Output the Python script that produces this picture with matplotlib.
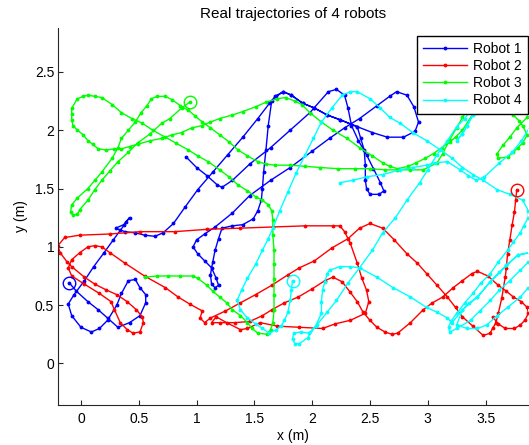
import numpy as np
import matplotlib
matplotlib.use('Agg')
import matplotlib.pyplot as plt
from matplotlib.ticker import FormatStrFormatter

plt.rcParams['font.family'] = ['Liberation Sans', 'DejaVu Sans']

# trajectories (x, y in metres)
r1_x = [-0.10, -0.04, 0.06, 0.15, 0.23, 0.32, 0.42, 0.51, 0.56, 0.56, 0.51, 0.47, 0.41, 0.35, 0.31, 0.23, 0.16, 0.09, 0.00, -0.08,
        -0.11, -0.06, 0.03, 0.11, 0.20, 0.28, 0.34, 0.39, 0.42, 0.37, 0.30, 0.38, 0.47, 0.55, 0.64, 0.71, 0.80, 0.90, 1.01, 1.14,
        1.27, 1.40, 1.53, 1.63, 1.68, 1.75, 1.82, 1.92, 2.02, 2.13, 2.24, 2.39, 2.52, 2.65, 2.79, 2.89, 2.92, 2.88, 2.82, 2.73,
        2.67, 2.56, 2.41, 2.28, 2.15, 2.00, 1.81, 1.64, 1.46, 1.31, 1.16, 1.07, 1.00, 0.97, 1.01, 1.07, 1.13, 1.17, 1.19, 1.16,
        1.13, 1.12, 1.14, 1.16, 1.19, 1.22, 1.31, 1.40, 1.49, 1.53, 1.56, 1.57, 1.58, 1.60, 1.62, 1.65, 1.69, 1.75, 1.82, 1.92,
        2.02, 2.13, 2.24, 2.39, 2.42, 2.45, 2.46, 2.46, 2.47, 2.50, 2.58, 2.62, 2.59, 2.53, 2.47, 2.40, 2.34, 2.31, 2.28, 2.21,
        2.14, 1.98, 1.81, 1.64, 1.46, 1.31, 1.22, 1.18, 1.09, 1.00, 0.91]
r1_y = [0.69, 0.62, 0.53, 0.46, 0.39, 0.31, 0.35, 0.41, 0.52, 0.59, 0.65, 0.72, 0.71, 0.60, 0.50, 0.37, 0.30, 0.27, 0.31, 0.41,
        0.51, 0.59, 0.71, 0.83, 0.95, 1.06, 1.14, 1.21, 1.25, 1.19, 1.16, 1.13, 1.12, 1.10, 1.09, 1.12, 1.20, 1.34, 1.49, 1.64,
        1.79, 1.94, 2.10, 2.23, 2.29, 2.33, 2.30, 2.23, 2.19, 2.13, 2.09, 2.03, 1.98, 1.94, 1.94, 1.99, 2.07, 2.20, 2.30, 2.33,
        2.29, 2.21, 2.10, 2.02, 1.93, 1.82, 1.68, 1.57, 1.44, 1.29, 1.17, 1.11, 1.06, 1.00, 0.94, 0.88, 0.82, 0.73, 0.67, 0.65,
        0.68, 0.76, 0.87, 0.97, 1.07, 1.16, 1.18, 1.19, 1.24, 1.31, 1.40, 1.50, 1.64, 1.83, 2.04, 2.25, 2.29, 2.33, 2.30, 2.23,
        2.19, 2.13, 2.09, 2.03, 1.93, 1.83, 1.70, 1.57, 1.50, 1.45, 1.45, 1.48, 1.55, 1.67, 1.79, 1.91, 2.04, 2.19, 2.30, 2.35,
        2.33, 2.15, 2.00, 1.85, 1.71, 1.57, 1.51, 1.53, 1.61, 1.68, 1.77]

r2_x = [3.77, 3.76, 3.75, 3.73, 3.71, 3.69, 3.68, 3.67, 3.64, 3.61, 3.59, 3.56, 3.54, 3.48, 3.39, 3.30, 3.24, 3.17, 3.08, 2.99,
        2.91, 2.82, 2.71, 2.61, 2.50, 2.41, 2.31, 2.17, 2.02, 1.89, 1.79, 1.65, 1.51, 1.38, 1.25, 1.12, 1.07, 1.03, 1.05, 0.94,
        0.84, 0.73, 0.55, 0.38, 0.25, 0.18, 0.12, 0.06, -0.01, -0.08, -0.11, -0.08, 0.03, 0.16, 0.26, 0.29, 0.34, 0.40, 0.45, 0.51,
        0.54, 0.53, 0.48, 0.40, 0.31, 0.22, 0.12, 0.03, -0.08, -0.12, -0.18, -0.20, -0.14, -0.01, 0.25, 0.51, 0.81, 1.09, 1.38, 1.66,
        1.94, 2.18, 2.24, 2.28, 2.33, 2.39, 2.43, 2.47, 2.49, 2.46, 2.33, 2.20, 2.09, 1.89, 1.70, 1.55, 1.44, 1.38, 1.26, 1.17,
        1.13, 1.20, 1.33, 1.46, 1.57, 1.65, 1.76, 1.88, 2.00, 2.11, 2.18, 2.26, 2.33, 2.39, 2.44, 2.50, 2.56, 2.63, 2.69, 2.74,
        2.85, 2.96, 3.04, 3.13, 3.22, 3.30, 3.38, 3.43, 3.52, 3.61, 3.68, 3.74, 3.81, 3.86, 3.87, 3.84, 3.80, 3.75, 3.67, 3.61,
        3.56]
r2_y = [1.49, 1.40, 1.30, 1.19, 1.06, 0.94, 0.82, 0.74, 0.56, 0.43, 0.35, 0.30, 0.26, 0.24, 0.32, 0.40, 0.48, 0.57, 0.67, 0.77,
        0.86, 0.94, 1.06, 1.16, 1.20, 1.16, 1.07, 0.99, 0.88, 0.82, 0.76, 0.67, 0.59, 0.52, 0.45, 0.39, 0.35, 0.39, 0.45, 0.51,
        0.57, 0.65, 0.75, 0.86, 0.95, 1.00, 1.01, 1.00, 0.95, 0.89, 0.82, 0.75, 0.68, 0.60, 0.53, 0.46, 0.35, 0.29, 0.26, 0.27,
        0.35, 0.40, 0.46, 0.53, 0.59, 0.63, 0.68, 0.74, 0.83, 0.87, 0.95, 1.01, 1.08, 1.10, 1.11, 1.13, 1.13, 1.15, 1.16, 1.17,
        1.18, 1.18, 1.18, 1.13, 1.03, 0.86, 0.73, 0.63, 0.53, 0.43, 0.37, 0.34, 0.30, 0.31, 0.32, 0.35, 0.30, 0.29, 0.35, 0.40,
        0.35, 0.35, 0.35, 0.36, 0.41, 0.46, 0.52, 0.57, 0.64, 0.71, 0.74, 0.70, 0.61, 0.53, 0.44, 0.37, 0.31, 0.27, 0.25, 0.26,
        0.35, 0.46, 0.52, 0.57, 0.65, 0.71, 0.77, 0.79, 0.75, 0.67, 0.62, 0.57, 0.53, 0.48, 0.43, 0.37, 0.33, 0.30, 0.30, 0.34,
        0.40]

r3_x = [0.94, 0.87, 0.77, 0.70, 0.60, 0.49, 0.41, 0.32, 0.25, 0.18, 0.12, 0.06, -0.01, -0.03, -0.07, -0.09, -0.08, -0.03, 0.06, 0.12,
        0.18, 0.27, 0.32, 0.35, 0.41, 0.47, 0.52, 0.57, 0.61, 0.66, 0.73, 0.79, 0.86, 0.93, 0.99, 1.05, 1.12, 1.20, 1.28, 1.36,
        1.44, 1.53, 1.60, 1.68, 1.81, 1.94, 2.07, 2.22, 2.37, 2.50, 2.63, 2.73, 2.85, 2.96, 3.08, 3.13, 3.19, 3.25, 3.30, 3.37,
        3.45, 3.58, 3.67, 3.71, 3.74, 3.79, 3.82, 3.86, 3.82, 3.78, 3.74, 3.69, 3.61, 3.60, 3.65, 3.71, 3.77, 3.86, 3.93, 3.94,
        3.62, 3.45, 3.39, 3.30, 3.24, 3.19, 3.12, 3.05, 2.98, 2.90, 2.83, 2.74, 2.67, 2.61, 2.52, 2.41, 2.30, 2.18, 2.08, 1.98,
        1.91, 1.85, 1.77, 1.70, 1.60, 1.51, 1.40, 1.31, 1.20, 1.12, 1.05, 0.96, 0.87, 0.79, 0.70, 0.60, 0.49, 0.42, 0.35, 0.29,
        0.22, 0.15, 0.10, 0.06, 0.02, -0.03, -0.07, -0.08, -0.08, -0.08, -0.03, 0.02, 0.06, 0.12, 0.18, 0.27, 0.35, 0.44, 0.53,
        0.62, 0.73, 0.82, 0.93, 1.01, 1.10, 1.20, 1.28, 1.36, 1.44, 1.51, 1.57, 1.62, 1.65, 1.66, 1.66, 1.67, 1.67, 1.67, 1.67,
        1.67, 1.66, 1.64, 1.61, 1.53, 1.48, 1.44, 1.38, 1.31, 1.26, 1.20, 1.14, 1.09, 1.01, 0.97, 0.86, 0.75, 0.66, 0.55]
r3_y = [2.24, 2.19, 2.10, 2.06, 1.97, 1.89, 1.81, 1.73, 1.65, 1.57, 1.49, 1.40, 1.32, 1.28, 1.27, 1.30, 1.36, 1.42, 1.50, 1.57,
        1.64, 1.76, 1.85, 1.93, 2.00, 2.07, 2.15, 2.21, 2.27, 2.29, 2.29, 2.26, 2.21, 2.17, 2.12, 2.07, 2.02, 1.96, 1.90, 1.83,
        1.78, 1.73, 1.71, 1.70, 1.70, 1.69, 1.68, 1.67, 1.67, 1.67, 1.66, 1.66, 1.66, 1.66, 1.72, 1.80, 1.92, 2.02, 2.11, 2.21,
        2.34, 2.43, 2.34, 2.24, 2.13, 2.08, 2.04, 1.96, 1.89, 1.85, 1.81, 1.77, 1.76, 1.80, 1.87, 1.94, 2.02, 2.11, 2.21, 2.51,
        2.64, 2.43, 2.14, 2.00, 1.94, 1.90, 1.85, 1.80, 1.76, 1.72, 1.69, 1.67, 1.69, 1.72, 1.78, 1.85, 1.93, 2.00, 2.07, 2.15,
        2.22, 2.25, 2.28, 2.27, 2.24, 2.20, 2.16, 2.13, 2.10, 2.07, 2.04, 2.02, 1.98, 1.96, 1.93, 1.91, 1.88, 1.86, 1.84, 1.84,
        1.83, 1.84, 1.88, 1.91, 1.96, 2.00, 2.04, 2.09, 2.14, 2.19, 2.27, 2.29, 2.30, 2.29, 2.28, 2.22, 2.15, 2.10, 2.06,
        2.00, 1.94, 1.89, 1.83, 1.78, 1.73, 1.66, 1.60, 1.53, 1.48, 1.43, 1.40, 1.36, 1.31, 1.23, 1.10, 0.97, 0.85, 0.72, 0.59,
        0.46, 0.35, 0.29, 0.25, 0.26, 0.30, 0.35, 0.41, 0.46, 0.52, 0.57, 0.62, 0.67, 0.73, 0.75, 0.75, 0.75, 0.75, 0.74]

r4_x = [1.83, 1.82, 1.81, 1.79, 1.76, 1.73, 1.69, 1.63, 1.57, 1.51, 1.44, 1.38, 1.35, 1.39, 1.44, 1.51, 1.57, 1.62, 1.66, 1.72,
        1.79, 1.86, 1.94, 2.01, 2.08, 2.17, 2.26, 2.33, 2.39, 2.50, 2.59, 2.67, 2.76, 2.87, 2.99, 3.11, 3.21, 3.30, 3.39, 3.48,
        3.60, 3.71, 3.82, 3.87, 3.87, 3.83, 3.80, 3.74, 3.69, 3.61, 3.54, 3.46, 3.39, 3.32, 3.25, 3.20, 3.18, 3.19, 3.25, 3.37,
        3.45, 3.54, 3.62, 3.71, 3.80, 3.87, 3.97, 3.87, 3.80, 3.69, 3.60, 3.51, 3.43, 3.34, 3.25, 3.30, 3.36, 3.43, 3.54, 3.62,
        3.68, 3.78, 3.88, 3.78, 3.68, 3.54, 3.43, 3.30, 3.21, 3.17, 3.08, 2.99, 2.85, 2.70, 2.56, 2.41, 2.33, 2.24, 2.15, 2.13,
        2.11, 2.09, 2.08, 2.08, 2.03, 1.96, 1.89, 1.85, 1.83, 1.84, 1.90, 1.97, 2.04, 2.13, 2.21, 2.31, 2.41, 2.52, 2.61, 2.72,
        2.82, 2.93, 3.00, 3.08, 3.17, 3.25, 3.32, 3.37, 3.44, 3.49, 3.42, 3.39, 3.34, 3.30, 3.25, 3.30, 3.34, 3.39, 3.42, 3.58,
        3.80, 3.95, 3.95, 3.88, 3.81, 3.73, 3.62, 3.49, 3.42, 3.35, 3.28, 3.17, 3.06, 2.99, 2.87, 2.76, 2.61, 2.47, 2.35, 2.24]
r4_y = [0.71, 0.63, 0.54, 0.44, 0.37, 0.32, 0.29, 0.26, 0.30, 0.34, 0.39, 0.46, 0.54, 0.63, 0.73, 0.85, 0.97, 1.07, 1.16, 1.31,
        1.47, 1.63, 1.79, 1.93, 2.07, 2.19, 2.30, 2.33, 2.33, 2.27, 2.19, 2.11, 2.06, 1.98, 1.91, 1.83, 1.76, 1.68, 1.62, 1.57,
        1.49, 1.45, 1.40, 1.31, 1.25, 1.18, 1.12, 1.04, 0.97, 0.87, 0.77, 0.69, 0.60, 0.52, 0.43, 0.36, 0.31, 0.27, 0.30, 0.37,
        0.45, 0.54, 0.63, 0.71, 0.80, 0.87, 0.78, 0.65, 0.57, 0.48, 0.41, 0.33, 0.30, 0.30, 0.33, 0.46, 0.52, 0.57, 0.70, 0.78,
        0.84, 0.93, 0.95, 0.93, 0.84, 0.70, 0.57, 0.46, 0.35, 0.39, 0.44, 0.48, 0.57, 0.65, 0.74, 0.82, 0.83, 0.83, 0.80, 0.77,
        0.70, 0.63, 0.53, 0.43, 0.32, 0.22, 0.17, 0.17, 0.21, 0.26, 0.27, 0.26, 0.33, 0.44, 0.54, 0.69, 0.82, 0.97, 1.12, 1.25,
        1.40, 1.55, 1.66, 1.79, 1.91, 2.03, 2.10, 2.17, 2.29, 2.28, 2.19, 2.13, 2.04, 1.97, 1.91, 1.97, 2.04, 2.13, 2.19, 2.30,
        2.30, 2.17, 2.07, 2.02, 1.91, 1.81, 1.72, 1.60, 1.57, 1.61, 1.66, 1.73, 1.72, 1.70, 1.68, 1.66, 1.62, 1.60, 1.57, 1.55]

series = [(r1_x, r1_y, 'Robot 1', (0, 0, 1)),
          (r2_x, r2_y, 'Robot 2', (1, 0, 0)),
          (r3_x, r3_y, 'Robot 3', (0, 1, 0)),
          (r4_x, r4_y, 'Robot 4', (0, 1, 1))]

fig = plt.figure(figsize=(5.29, 4.45), dpi=100)
ax = fig.add_axes([58.3/529, 40/445, (528-58.3)/529, (405-28)/445])

for xs, ys, lab, col in series:
    ax.plot(xs, ys, '-', color=col, lw=1.0, marker='.', ms=3.5, label=lab)
# start positions
for xs, ys, lab, col in series:
    ax.plot(xs[0], ys[0], 'o', mfc='none', mec=col, ms=9, mew=1.0)

ax.set_xlim(-0.196, 3.867)
ax.set_ylim(-0.356, 2.876)
ax.set_xticks(np.arange(0, 4.0, 0.5))
ax.set_yticks(np.arange(0, 3.0, 0.5))
ax.xaxis.set_major_formatter(FormatStrFormatter('%g'))
ax.yaxis.set_major_formatter(FormatStrFormatter('%g'))
ax.spines['top'].set_visible(False)
ax.spines['right'].set_visible(False)
for s in ['left', 'bottom']:
    ax.spines[s].set_color('#262626')
    ax.spines[s].set_linewidth(0.8)
ax.tick_params(direction='in', length=3.5, width=0.8, colors='#262626', labelcolor='black',
               labelsize=10, top=False, right=False)
ax.tick_params(axis='x', pad=5)
ax.tick_params(axis='y', pad=3)

ax.set_title('Real trajectories of 4 robots', fontsize=11, pad=7)
ax.set_xlabel('x (m)', fontsize=10, labelpad=2)
ax.set_ylabel('y (m)', fontsize=10, labelpad=5)

handles, labels = ax.get_legend_handles_labels()
leg = ax.legend(handles[:4], labels[:4], loc='upper right', bbox_to_anchor=(528/529, 1-36/445),
                bbox_transform=fig.transFigure, borderaxespad=0, fancybox=False, edgecolor='black',
                framealpha=1, fontsize=10, handlelength=3.2, handletextpad=0.4, labelspacing=0.22,
                borderpad=0.45, numpoints=1)
leg.get_frame().set_linewidth(1.0)

fig.savefig('out.png', dpi=100)
